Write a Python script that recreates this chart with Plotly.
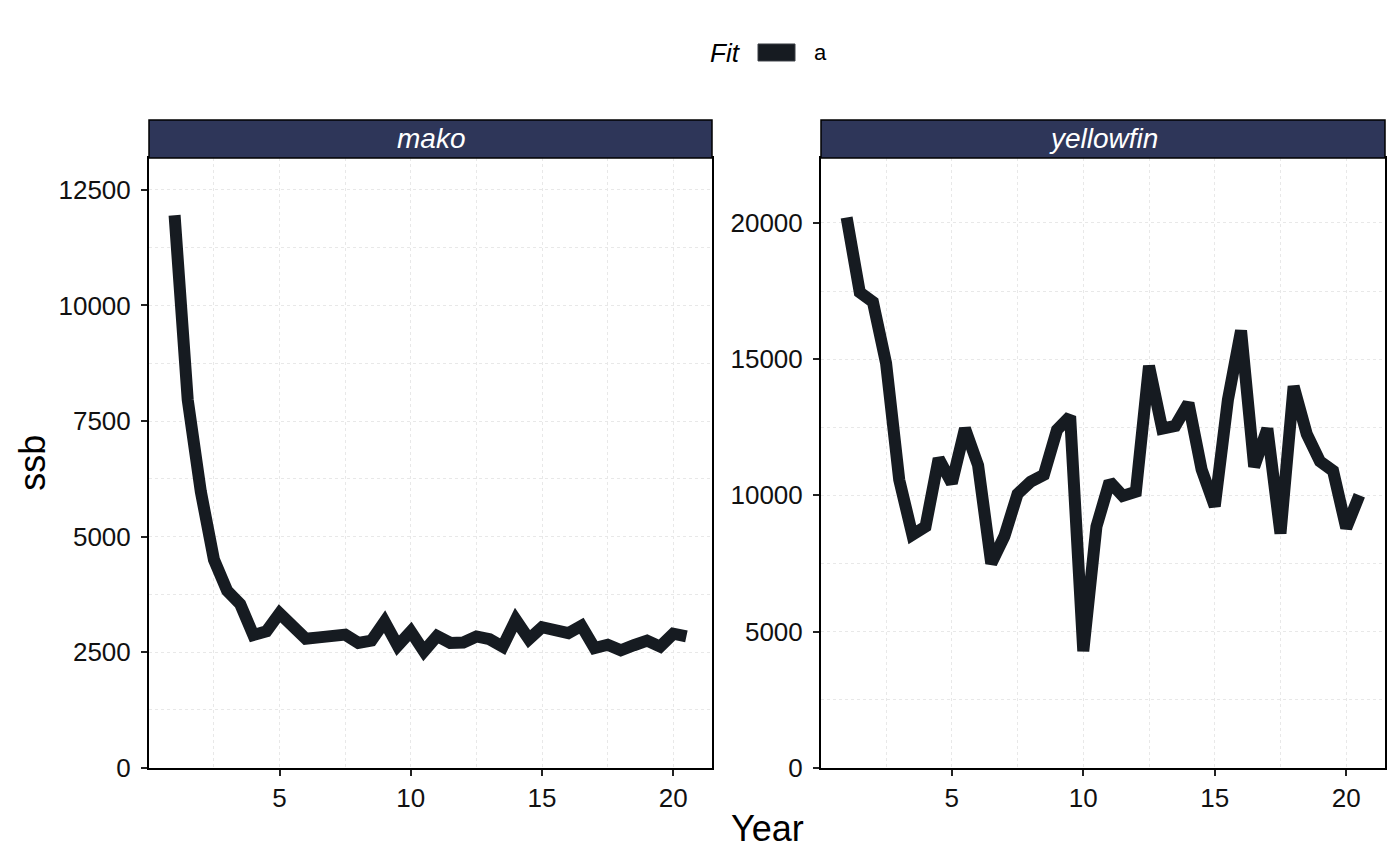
import plotly.graph_objects as go

# ---- data ----
years = [1 + 0.5 * i for i in range(40)]
mako_ssb = [11950, 7960, 5970, 4500, 3830, 3540, 2870, 2950, 3340, 3060,
            2790, 2820, 2830, 2880, 2700, 2750, 3160, 2640, 2950, 2520,
            2850, 2700, 2710, 2840, 2780, 2620, 3200, 2780, 3040, 2950,
            2910, 3070, 2590, 2660, 2540, 2650, 2750, 2620, 2900, 2840]
yellowfin_ssb = [20200, 17450, 17100, 14850, 10570, 8550, 8850, 11350, 10450, 12450,
                 11100, 7500, 8500, 10050, 10500, 10750, 12400, 12900, 4280, 8850,
                 10500, 9980, 10130, 14750, 12450, 12550, 13380, 10950, 9600, 13500,
                 16050, 11050, 12450, 8600, 14000, 12250, 11250, 10900, 8800, 10000]
panels = ["mako", "yellowfin"]
fit_label = "a"
x_ticks = [5, 10, 15, 20]
mako_yticks = [0, 2500, 5000, 7500, 10000, 12500]
yf_yticks = [0, 5000, 10000, 15000, 20000]

# ---- layout geometry (pixels) ----
W, H = 1400, 865
VSCALE = 0.983  # compensation for vertical squeeze seen in the rendered capture
FONT = "Liberation Sans, Arial, sans-serif"
LINE_COLOR = "#161B21"
STRIP_COLOR = "#2E3659"
GRID = "#E8E8E8"

def px_x(p):
    return p / W

def px_y(p):
    return 1 - (p / VSCALE) / H

panel_x = [(149, 712), (821, 1385)]
panel_top, panel_bot = 158, 768
strip_top = 120

fig = go.Figure()

series = [mako_ssb, yellowfin_ssb]
ranges = [[0, 13190], [0, 22385]]
yticks = [mako_yticks, yf_yticks]
ydticks = [1250, 2500]

for i, (name, vals) in enumerate(zip(panels, series)):
    xa = "x" if i == 0 else "x2"
    ya = "y" if i == 0 else "y2"
    fig.add_trace(go.Scatter(
        x=years, y=vals, mode="lines", xaxis=xa, yaxis=ya,
        line=dict(color=LINE_COLOR, width=12),
        name=fit_label, showlegend=False,
        hoverinfo="skip",
    ))

axis_common = dict(
    showline=True, linecolor="black", linewidth=2, mirror=True,
    ticks="outside", ticklen=6, tickwidth=1.5, tickcolor="#222222",
    tickfont=dict(family=FONT, size=26, color="#111111"),
    showgrid=True, gridcolor=GRID, gridwidth=1, griddash="3px,3px",
    zeroline=False,
)

for i in range(2):
    x0, x1 = panel_x[i]
    xkey = "xaxis" if i == 0 else "xaxis2"
    ykey = "yaxis" if i == 0 else "yaxis2"
    fig.layout[xkey] = dict(
        axis_common,
        domain=[px_x(x0), px_x(x1)],
        range=[0.025, 21.475],
        tickmode="array", tickvals=x_ticks, ticktext=[str(v) for v in x_ticks],
        anchor="y" if i == 0 else "y2",
        minor=dict(dtick=2.5, tick0=0, showgrid=True, gridcolor=GRID,
                   griddash="3px,3px", gridwidth=1, ticks=""),
    )
    fig.layout[ykey] = dict(
        axis_common,
        domain=[px_y(panel_bot), px_y(panel_top)],
        range=ranges[i],
        tickmode="array", tickvals=yticks[i], ticktext=[str(v) for v in yticks[i]],
        ticklabelstandoff=5,
        anchor="x" if i == 0 else "x2",
        minor=dict(dtick=ydticks[i], tick0=0, showgrid=True, gridcolor=GRID,
                   griddash="3px,3px", gridwidth=1, ticks=""),
    )
    # strip
    fig.add_shape(type="rect", xref="paper", yref="paper",
                  x0=px_x(x0), x1=px_x(x1), y0=px_y(panel_top), y1=px_y(strip_top),
                  fillcolor=STRIP_COLOR, line=dict(color="black", width=1.5), layer="above")
    fig.add_annotation(x=(px_x(x0) + px_x(x1)) / 2, y=(px_y(panel_top) + px_y(strip_top)) / 2,
                       xref="paper", yref="paper", text="<i>%s</i>" % panels[i],
                       showarrow=False, font=dict(family=FONT, size=28, color="white"),
                       xanchor="center", yanchor="middle")

# axis titles
fig.add_annotation(x=px_x(767), y=px_y(829), xref="paper", yref="paper", text="Year",
                   showarrow=False, font=dict(family=FONT, size=36, color="black"),
                   xanchor="center", yanchor="middle")
fig.add_annotation(x=px_x(33), y=px_y(463), xref="paper", yref="paper", text="ssb",
                   showarrow=False, textangle=-90,
                   font=dict(family=FONT, size=36, color="black"),
                   xanchor="center", yanchor="middle")

# legend (drawn manually to match the filled key)
fig.add_annotation(x=px_x(725), y=px_y(53), xref="paper", yref="paper", text="<i>Fit</i>",
                   showarrow=False, font=dict(family=FONT, size=26, color="black"),
                   xanchor="center", yanchor="middle")
fig.add_shape(type="rect", xref="paper", yref="paper",
              x0=px_x(758), x1=px_x(795), y0=px_y(61), y1=px_y(44),
              fillcolor=LINE_COLOR, line=dict(color="#3a3f45", width=1))
fig.add_annotation(x=px_x(820.5), y=px_y(53), xref="paper", yref="paper", text=fit_label,
                   showarrow=False, font=dict(family=FONT, size=22, color="black"),
                   xanchor="center", yanchor="middle")

fig.update_layout(
    width=W, height=H,
    margin=dict(l=0, r=0, t=0, b=0),
    paper_bgcolor="white", plot_bgcolor="white",
    font=dict(family=FONT),
    showlegend=False,
)

fig.write_html(
    "out.html",
    config={"displayModeBar": False},
    post_script=("document.documentElement.style.margin='0';"
                 "document.documentElement.style.overflow='hidden';"
                 "document.body.style.margin='0';"
                 "document.body.style.overflow='hidden';"),
)
